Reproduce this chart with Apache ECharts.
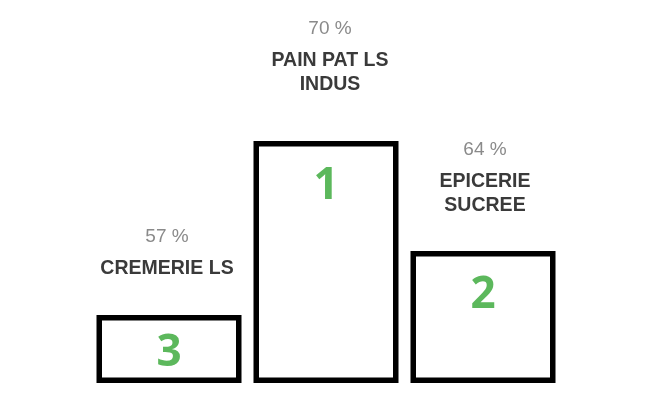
<!DOCTYPE html>
<html>
<head>
<meta charset="utf-8">
<script src="https://cdn.jsdelivr.net/npm/echarts@6/dist/echarts.min.js"></script>
<style>
html,body{margin:0;padding:0;background:#fff;}
#c{width:667px;height:419px;}
</style>
</head>
<body>
<div id="c"></div>
<script>
// Podium order (left to right)
var categories = ['CREMERIE LS', 'PAIN PAT LS\nINDUS', 'EPICERIE\nSUCREE'];
var percents = [57, 70, 64];
var ranks = [3, 1, 2];
// Podium step heights (relative, tallest = 100)
var podiumHeights = [28.1, 100, 54.5];

var chart = echarts.init(document.getElementById('c'));

var topDistances = [34, 44, 33];
var topOffsets = [-2, 4, 2];
var insideDistances = [16, 23, 22];

function nameRich(name) {
  return name.split('\n').map(function (l) { return '{n|' + l + '}'; }).join('\n');
}

chart.setOption({
  animation: false,
  grid: { left: 90.5, right: 105.5, top: 141, bottom: 36 },
  xAxis: {
    type: 'category',
    data: categories,
    show: false
  },
  yAxis: {
    type: 'value',
    min: 0,
    max: 100,
    show: false
  },
  series: [
    {
      type: 'bar',
      barWidth: 145,
      data: podiumHeights.map(function (h, i) {
        return {
          value: h,
          label: {
            show: true,
            position: 'top',
            distance: topDistances[i],
            offset: [topOffsets[i], 0],
            formatter: '{p|' + percents[i] + ' %}\n' + nameRich(categories[i]),
            rich: {
              p: { fontFamily: 'Liberation Sans, Arial, sans-serif', fontSize: 19, color: '#8a8a8a', lineHeight: 40, align: 'center' },
              n: { fontFamily: 'Liberation Sans, Arial, sans-serif', fontSize: 19.5, fontWeight: 'bold', color: '#3a3a3a', lineHeight: 24, align: 'center' }
            }
          }
        };
      }),
      itemStyle: {
        color: '#ffffff',
        borderColor: '#000000',
        borderWidth: 5.5
      },
      z: 2
    },
    {
      type: 'bar',
      barWidth: 145,
      barGap: '-100%',
      silent: true,
      data: podiumHeights.map(function (h, i) {
        return {
          value: h,
          label: {
            show: true,
            position: 'insideTop',
            distance: insideDistances[i],
            formatter: String(ranks[i]),
            fontFamily: 'Open Sans, sans-serif',
            fontWeight: 'bold',
            fontSize: 44,
            lineHeight: 44,
            color: '#5cb85c'
          }
        };
      }),
      itemStyle: { color: 'rgba(0,0,0,0)' },
      z: 3
    }
  ]
});
</script>
</body>
</html>
